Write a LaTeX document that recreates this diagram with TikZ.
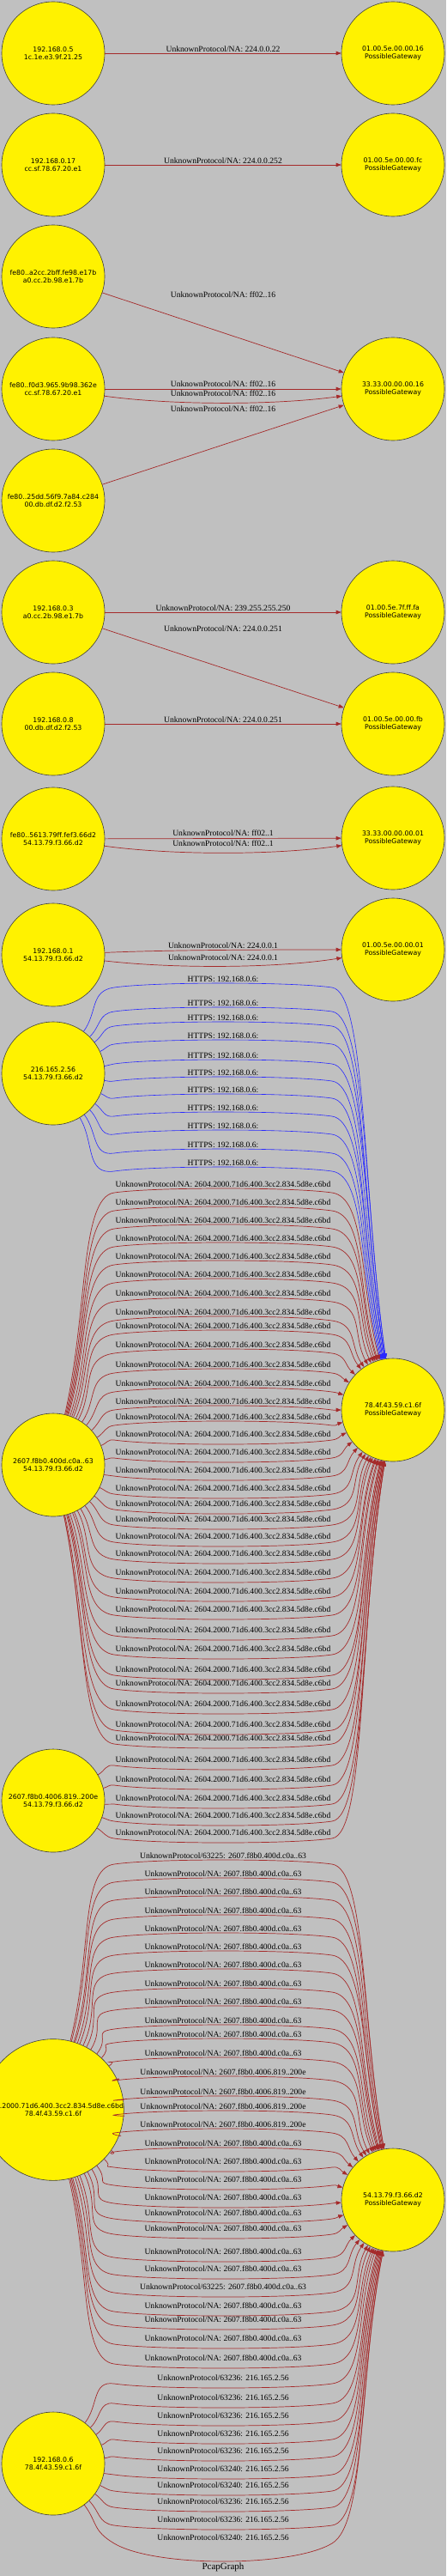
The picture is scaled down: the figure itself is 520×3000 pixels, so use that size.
\documentclass[tikz,border=0pt]{standalone}
\usepackage{fontspec}
\setmainfont{Liberation Serif}
\newfontfamily\nodefont{DejaVu Sans}
\usetikzlibrary{arrows.meta,calc}
\definecolor{bgc}{RGB}{192,192,192}
\definecolor{ebrown}{RGB}{165,42,42}
\definecolor{eblue}{RGB}{40,40,255}
\definecolor{nodeline}{RGB}{60,60,60}
\tikzset{
 host/.style={circle, draw=nodeline, fill=yellow, line width=0.6pt, minimum size=120pt, inner sep=0pt, align=center, font=\nodefont\fontsize{7.8}{9}\selectfont},
 redE/.style={draw=ebrown, line width=0.7pt, -{Triangle[length=6pt,width=4.5pt]}},
 blueE/.style={draw=eblue, line width=0.6pt, -{Triangle[length=6pt,width=4.5pt]}},
 elab/.style={font=\fontsize{9.6}{11}\selectfont, inner sep=0pt, text=black},
}
% fan edge: [extra sag]{src}{src y}{tgt}{tgt y}{label y}{style}{label}
\newcommand\fe[8][0]{%
  \pgfmathsetmacro\feS{ifthenelse(#6+8>(#3+#5)/2,1,-1)}%
  \pgfmathsetmacro\feYE{#6+8.5-1.5*(\feS)}%
  \pgfmathsetmacro\feYM{#6+8.5+3.5*(\feS)+#1}%
  \pgfmathsetmacro\feYMP{\feYE+(\feYM-\feYE)*4/3}%
  \pgfmathsetmacro\feSM{(\feYMP-\feYE)/47}%
  \pgfmathtruncatemacro\feAL{mod(atan2(#3-\feYE,71)+360,360)}%
  \pgfmathtruncatemacro\feBE{mod(atan2(#5-\feYE,-71)+360,360)}%
  \pgfmathsetmacro\feDa{max(100*sqrt(0.5041+((#3-\feYE)/100)^2)-60,2)}%
  \pgfmathsetmacro\feDb{max(100*sqrt(0.5041+((#5-\feYE)/100)^2)-60,2)}%
  \pgfmathsetmacro\feDA{0.45*\feDa}%
  \pgfmathsetmacro\feDAA{min(0.45*\feDa,40)}%
  \pgfmathsetmacro\feDB{0.45*\feDb}%
  \pgfmathsetmacro\feDBB{min(0.45*\feDb,40)}%
  \pgfmathsetmacro\feCA{133-\feDAA}%
  \pgfmathsetmacro\feCAy{\feDAA*(\feSM)-\feYE}%
  \pgfmathsetmacro\feCB{387+\feDBB}%
  \pgfmathsetmacro\feCBy{\feDBB*(\feSM)-\feYE}%
  \pgfmathsetmacro\feNYE{-\feYE}%
  \pgfmathsetmacro\feNYMP{-\feYMP}%
  \draw[#7] (#2.\feAL) .. controls ($(#2.\feAL)+(\feAL:\feDA)$) and (\feCA,\feCAy) .. (133,\feNYE)
     .. controls (180,\feNYMP) and (340,\feNYMP) .. (387,\feNYE)
     .. controls (\feCB,\feCBy) and ($(#4.\feBE)+(\feBE:\feDB)$) .. (#4.\feBE);
  \node[elab] at (260,-#6) {#8};
}
\begin{document}
\begin{tikzpicture}[x=1pt,y=1pt]
\useasboundingbox (0,0) rectangle (520,-3000);
\fill[bgc] (0,0) rectangle (520,-3000);
% left nodes
\node[host] (L1) at (62,-62) {192.168.0.5\\1c.1e.e3.9f.21.25};
\node[host] (L2) at (62,-192) {192.168.0.17\\cc.sf.78.67.20.e1};
\node[host] (L3) at (62,-322) {fe80..a2cc.2bff.fe98.e17b\\a0.cc.2b.98.e1.7b};
\node[host] (L4) at (62,-453) {fe80..f0d3.965.9b98.362e\\cc.sf.78.67.20.e1};
\node[host] (L5) at (62,-583) {fe80..25dd.56f9.7a84.c284\\00.db.df.d2.f2.53};
\node[host] (L6) at (62,-713) {192.168.0.3\\a0.cc.2b.98.e1.7b};
\node[host] (L7) at (62,-843) {192.168.0.8\\00.db.df.d2.f2.53};
\node[host] (L8) at (62,-977) {fe80..5613.79ff.fef3.66d2\\54.13.79.f3.66.d2};
\node[host] (L9) at (62,-1112) {192.168.0.1\\54.13.79.f3.66.d2};
\node[host] (L10) at (62,-1250) {216.165.2.56\\54.13.79.f3.66.d2};
\node[host] (L11) at (62,-1706) {2607.f8b0.400d.c0a..63\\54.13.79.f3.66.d2};
\node[host] (L12) at (62,-2097) {2607.f8b0.4006.819..200e\\54.13.79.f3.66.d2};
\node[host] (L13) at (62,-2457) {2604.2000.71d6.400.3cc2.834.5d8e.c6bd\\78.4f.43.59.c1.6f};
\node[host] (L14) at (62,-2869) {192.168.0.6\\78.4f.43.59.c1.6f};
% right nodes
\node[host] (R1) at (458,-62) {01.00.5e.00.00.16\\PossibleGateway};
\node[host] (R2) at (458,-192) {01.00.5e.00.00.fc\\PossibleGateway};
\node[host] (R3) at (458,-453) {33.33.00.00.00.16\\PossibleGateway};
\node[host] (R4) at (458,-713) {01.00.5e.7f.ff.fa\\PossibleGateway};
\node[host] (R5) at (458,-843) {01.00.5e.00.00.fb\\PossibleGateway};
\node[host] (R6) at (458,-976) {33.33.00.00.00.01\\PossibleGateway};
\node[host] (R7) at (458,-1106) {01.00.5e.00.00.01\\PossibleGateway};
\node[host] (R8) at (458,-1642) {78.4f.43.59.c1.6f\\PossibleGateway};
\node[host] (R9) at (458,-2562) {54.13.79.f3.66.d2\\PossibleGateway};
% simple edges
\draw[redE] (L1) -- (R1); \node[elab] at (260,-57) {UnknownProtocol/NA: 224.0.0.22};
\draw[redE] (L2) -- (R2); \node[elab] at (260,-187) {UnknownProtocol/NA: 224.0.0.252};
\draw[redE] (L3) -- (R3); \node[elab] at (260,-343) {UnknownProtocol/NA: ff02..16};
\draw[redE] (L4) -- (R3); \node[elab] at (260,-447) {UnknownProtocol/NA: ff02..16};
\draw[redE] (L4) .. controls (200,-472) and (320,-472) .. (R3); \node[elab] at (260,-458) {UnknownProtocol/NA: ff02..16};
\draw[redE] (L5) -- (R3); \node[elab] at (260,-476) {UnknownProtocol/NA: ff02..16};
\draw[redE] (L6) -- (R4); \node[elab] at (260,-708) {UnknownProtocol/NA: 239.255.255.250};
\draw[redE] (L6) -- (R5); \node[elab] at (260,-732) {UnknownProtocol/NA: 224.0.0.251};
\draw[redE] (L7) -- (R5); \node[elab] at (260,-838) {UnknownProtocol/NA: 224.0.0.251};
\draw[redE] (L8) -- (R6); \node[elab] at (260,-970) {UnknownProtocol/NA: ff02..1};
\draw[redE] (L8) .. controls (200,-996) and (320,-996) .. (R6); \node[elab] at (260,-982) {UnknownProtocol/NA: ff02..1};
\draw[redE] (L9) .. controls (200,-1106) and (320,-1106) .. (R7); \node[elab] at (260,-1101) {UnknownProtocol/NA: 224.0.0.1};
\draw[redE] (L9) .. controls (200,-1128) and (320,-1128) .. (R7); \node[elab] at (260,-1115) {UnknownProtocol/NA: 224.0.0.1};
% HTTPS fan
\foreach \ly in {1140,1168,1185,1206,1229,1249,1269,1290,1311,1333,1354}
  {\fe{L10}{1250}{R8}{1642}{\ly}{blueE}{HTTPS: 192.168.0.6:}}
% L11 fan
\foreach \ly in {1379,1400,1421,1442,1463,1484,1506,1528,1544,1566,1589,1611,1632,1650,1670,1691,1712,1733,1751,1769,1789,1809,1831,1853,1874,1898,1920,1944,1960,1984,2008,2024}
  {\fe{L11}{1706}{R8}{1642}{\ly}{redE}{UnknownProtocol/NA: 2604.2000.71d6.400.3cc2.834.5d8e.c6bd}}
% L12 fan
\foreach \ly in {2049,2072,2094,2114,2134}
  {\fe{L12}{2097}{R8}{1642}{\ly}{redE}{UnknownProtocol/NA: 2604.2000.71d6.400.3cc2.834.5d8e.c6bd}}
% L13 fan
\fe{L13}{2457}{R9}{2562}{2161}{redE}{UnknownProtocol/63225: 2607.f8b0.400d.c0a..63}
\foreach \ly in {2182,2203,2225,2246,2267,2288,2310,2331,2353,2369,2391,2496,2517,2538,2559,2577,2595,2622,2642,2685,2701,2723,2746}
  {\fe{L13}{2457}{R9}{2562}{\ly}{redE}{UnknownProtocol/NA: 2607.f8b0.400d.c0a..63}}
\foreach \ly in {2413,2436,2453,2474}
  {\fe{L13}{2457}{R9}{2562}{\ly}{redE}{UnknownProtocol/NA: 2607.f8b0.4006.819..200e}}
\fe{L13}{2457}{R9}{2562}{2663}{redE}{UnknownProtocol/63225: 2607.f8b0.400d.c0a..63}
% L14 fan
\foreach \ly in {2769,2792,2813,2834,2854,2913,2934}
  {\fe{L14}{2869}{R9}{2562}{\ly}{redE}{UnknownProtocol/63236: 216.165.2.56}}
\foreach \ly in {2875,2894}
  {\fe{L14}{2869}{R9}{2562}{\ly}{redE}{UnknownProtocol/63240: 216.165.2.56}}
\fe[16]{L14}{2869}{R9}{2562}{2955}{redE}{UnknownProtocol/63240: 216.165.2.56}
\node[font=\fontsize{11}{13}\selectfont] (title) at (260,-2990) {PcapGraph};
\end{tikzpicture}
\end{document}
